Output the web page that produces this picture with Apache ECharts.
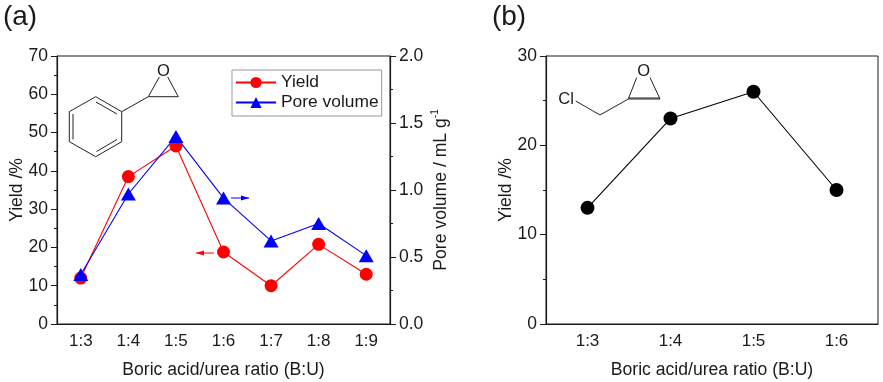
<!DOCTYPE html>
<html>
<head>
<meta charset="utf-8">
<style>html,body{margin:0;padding:0;background:#fff}#chart{width:883px;height:382px}</style>
<script src="https://cdn.jsdelivr.net/npm/echarts@6/dist/echarts.min.js"></script>
</head>
<body>
<div id="chart"></div>
<script>
var ratiosA = ['1:3', '1:4', '1:5', '1:6', '1:7', '1:8', '1:9'];
var yieldA = [12, 38.5, 46.5, 18.8, 10, 20.8, 13];
var poreA = [0.37, 0.97, 1.40, 0.94, 0.62, 0.75, 0.51];
var ratiosB = ['1:3', '1:4', '1:5', '1:6'];
var yieldB = [13, 23, 26, 15];

var font = '"Liberation Sans", Arial, sans-serif';
var ink = '#1a1a1a';

function xMain(idx, cats, name) {
  return {
    type: 'category', gridIndex: idx, data: cats, boundaryGap: true, name: name,
    nameLocation: 'middle', nameGap: 37,
    nameTextStyle: { fontFamily: font, fontSize: 17.6, color: ink },
    axisLine: { lineStyle: { color: ink, width: 1.2 } },
    axisTick: { alignWithLabel: true, length: 5, lineStyle: { color: ink } },
    axisLabel: { fontFamily: font, fontSize: 17, color: ink, margin: 9 }
  };
}
// second category axis only for the short ticks between the labels
function xMinor(idx, cats) {
  return {
    type: 'category', gridIndex: idx, data: cats, position: 'bottom',
    axisLine: { show: false },
    axisTick: { length: 3, lineStyle: { color: ink } },
    axisLabel: { show: false }
  };
}
function yAxis(idx, pos, max, step, name, gap, fmt) {
  return {
    type: 'value', gridIndex: idx, position: pos, min: 0, max: max, interval: step,
    name: name, nameLocation: 'middle', nameGap: gap, nameMoveOverlap: false,
    nameTextStyle: {
      fontFamily: font, fontSize: 17.6, color: ink,
      rich: {
        t: { fontFamily: font, fontSize: 17.6, color: ink },
        s: { fontFamily: font, fontSize: 10, color: ink, verticalAlign: 'top', lineHeight: 22 }
      }
    },
    splitLine: { show: false },
    axisLine: { show: true, lineStyle: { color: ink, width: 1.2 } },
    axisTick: { show: true, length: 6, lineStyle: { color: ink } },
    minorTick: { show: true, splitNumber: 2, length: 3, lineStyle: { color: ink } },
    minorSplitLine: { show: false },
    axisLabel: { fontFamily: font, fontSize: 17.5, color: ink, margin: 9, formatter: fmt }
  };
}

function seg(points) {
  return { type: 'polyline', shape: { points: points }, silent: true, style: { stroke: '#222', lineWidth: 1, fill: null } };
}
function label(text, x, y, size) {
  return { type: 'text', x: x, y: y, silent: true, style: { text: text, fontFamily: font, fontSize: size, fill: ink, align: 'center', verticalAlign: 'middle' } };
}
function arrow(x1, x2, y, color) {
  var d = x2 > x1 ? 1 : -1;
  return [
    { type: 'line', silent: true, shape: { x1: x1, y1: y, x2: x2, y2: y }, style: { stroke: color, lineWidth: 1 } },
    { type: 'polygon', silent: true, shape: { points: [[x2, y], [x2 - 8 * d, y - 2.5], [x2 - 8 * d, y + 2.5]] }, style: { fill: color } }
  ];
}

var graphics = [
  label('(a)', 20, 17, 28),
  label('(b)', 509, 17, 28),
  // styrene oxide
  seg([[95.7, 96.7], [121.7, 111.7], [121.7, 141.7], [95.7, 156.7], [69.3, 141.7], [69.3, 111.7], [95.7, 96.7]]),
  seg([[96, 102], [117, 114]]),
  seg([[117, 139.5], [96.5, 151.5]]),
  seg([[73, 114], [73, 139.5]]),
  seg([[121.7, 111.7], [148.3, 96.7], [178.3, 96.7], [167.7, 77]]),
  seg([[148.3, 96.7], [159.3, 77]]),
  label('O', 163.3, 71, 16.5),
  // epichlorohydrin
  label('Cl', 566, 99.5, 16.5),
  seg([[575.7, 101], [600, 115], [628.3, 99], [660, 99], [650, 77.5]]),
  seg([[628.3, 99], [636.7, 77.5]]),
  seg([[628.3, 98], [660, 98]]),
  label('O', 643.7, 71.5, 16.5)
].concat(arrow(214, 196, 253, '#ff0000'), arrow(231, 249, 198, '#0000ff'));

var option = {
  animation: false,
  backgroundColor: '#fff',
  grid: [
    { left: 57, top: 56, width: 333, height: 268, outerBoundsMode: 'none', show: true, borderColor: ink, borderWidth: 1, backgroundColor: 'transparent' },
    { left: 546, top: 56, width: 332, height: 268, outerBoundsMode: 'none', show: true, borderColor: ink, borderWidth: 1, backgroundColor: 'transparent' }
  ],
  xAxis: [
    xMain(0, ratiosA, 'Boric acid/urea ratio (B:U)'),
    xMinor(0, ratiosA),
    xMain(1, ratiosB, 'Boric acid/urea ratio (B:U)'),
    xMinor(1, ratiosB)
  ],
  yAxis: [
    yAxis(0, 'left', 70, 10, 'Yield /%', 31),
    yAxis(0, 'right', 2, 0.5, '{t|Pore volume / mL g}{s|-1}', 40, function (v) { return v.toFixed(1); }),
    yAxis(1, 'left', 30, 10, 'Yield /%', 31)
  ],
  legend: {
    data: ['Yield', 'Pore volume'], orient: 'vertical', left: 232, top: 70,
    itemWidth: 40, itemHeight: 14, itemGap: 3, padding: [4, 3, 5, 3],
    borderColor: '#999', borderWidth: 1,
    selectedMode: false,
    textStyle: { fontFamily: font, fontSize: 17.4, color: ink }
  },
  series: [
    {
      name: 'Yield', type: 'line', xAxisIndex: 0, yAxisIndex: 0, data: yieldA,
      symbol: 'circle', symbolSize: 13,
      lineStyle: { color: '#ff0000', width: 1.1 }, itemStyle: { color: '#ff0000' }
    },
    {
      name: 'Pore volume', type: 'line', xAxisIndex: 0, yAxisIndex: 1, data: poreA,
      symbol: 'triangle', symbolSize: [15, 13],
      lineStyle: { color: '#0000ff', width: 1.1 }, itemStyle: { color: '#0000ff' }
    },
    {
      name: 'Epichlorohydrin', type: 'line', xAxisIndex: 2, yAxisIndex: 2, data: yieldB,
      symbol: 'circle', symbolSize: 14,
      lineStyle: { color: '#000', width: 1.1 }, itemStyle: { color: '#000' }
    }
  ],
  graphic: graphics
};

var chart = echarts.init(document.getElementById('chart'));
chart.setOption(option);
</script>
</body>
</html>
